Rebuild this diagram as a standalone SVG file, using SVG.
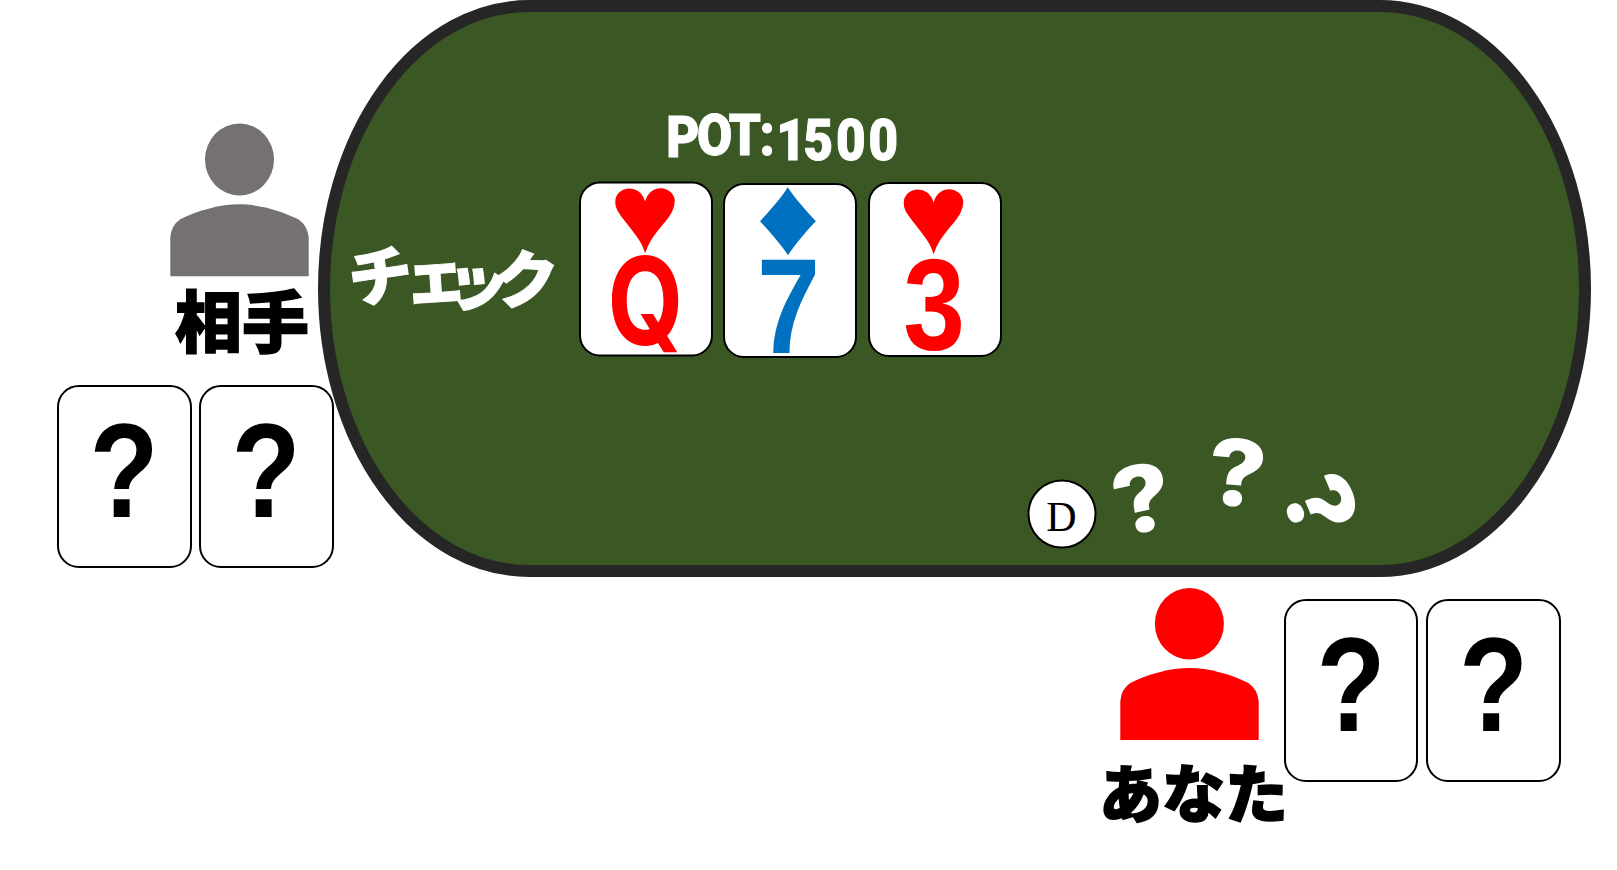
<svg xmlns="http://www.w3.org/2000/svg" width="1617" height="870" viewBox="0 0 1617 870">
<style>
.card{fill:#fff;stroke:#000;stroke-width:2}
.q{font-family:"Liberation Sans",Arial,sans-serif;font-weight:700;font-size:133px;text-anchor:middle;fill:#000}
.rank{font-family:"Liberation Sans",Arial,sans-serif;font-weight:700;text-anchor:middle}
.suit{font-family:"Liberation Sans",Arial,sans-serif;text-anchor:middle}
.jp{font-family:"Noto Sans CJK JP",sans-serif;font-weight:900}
.wq{font-family:Inter,sans-serif;font-weight:800;font-size:92px;text-anchor:middle;fill:#fff}
</style>
<defs>
<path id="body" d="M0 72V33Q1 21 10 15C28 6 50 0 69 0C88 0 110 6 128 15Q137 21 138.4 33V72Z"/>
</defs>
<g id="table"><path d="M529 6H1380A205 282.5 0 0 1 1380 571H529A205 282.5 0 0 1 529 6Z" fill="#3a5724" stroke="#262626" stroke-width="12"/></g>
<g id="pot"><text font-family="Roboto,sans-serif" font-weight="900" font-size="58" fill="#fff" stroke="#fff" stroke-width="1" transform="scale(.88 1)" x="757 792 828 863 882 913 950 987" y="157 155 155 155 160 160 160 160">POT:1500</text></g>
<g id="action"><text class="jp" font-size="64" fill="#fff" stroke="#fff" stroke-width="1" x="352 405 441 493" y="304 302 298 302" rotate="-8 -4 14 3">チェック</text></g>
<g id="board-q"><rect class="card" x="580" y="182.5" width="132" height="173" rx="20"/><text class="suit" font-size="114" fill="#f00" transform="translate(645 252) scale(1.056 1)">♥</text><text style="font-family:Inter,sans-serif" class="rank" fill="#f00" font-size="122" transform="translate(645.5 345) scale(.8 1)">Q</text></g>
<g id="board-7"><rect class="card" x="724" y="184" width="132" height="173" rx="20"/><text class="suit" font-size="112" fill="#0070c0" transform="translate(788 254) scale(1.12 1)">♦</text><text class="rank" fill="#0070c0" font-size="135" transform="translate(788.5 353) scale(.84 1)">7</text></g>
<g id="board-3"><rect class="card" x="869" y="183" width="132" height="173" rx="20"/><text class="suit" font-size="114" fill="#f00" transform="translate(933.5 253) scale(1.056 1)">♥</text><text class="rank" fill="#f00" font-size="129" transform="translate(934 350) scale(.86 1)">3</text></g>
<g id="opponent">
<ellipse cx="239.5" cy="159.5" rx="34.5" ry="36" fill="#767171"/>
<use href="#body" x="170.3" y="204.3" fill="#767171"/>
<text class="jp" font-size="67" stroke="#000" stroke-width="1.5" x="175" y="347">相手</text>
</g>
<g id="opponent-cards">
<rect class="card" x="58" y="386" width="133" height="181" rx="21"/><text class="q" transform="translate(124 517) scale(.85 1)">?</text>
<rect class="card" x="200" y="386" width="133" height="181" rx="21"/><text class="q" transform="translate(266 517) scale(.85 1)">?</text>
</g>
<g id="dealer"><circle cx="1062" cy="514" r="33.5" fill="#fff" stroke="#000" stroke-width="2"/><text x="1061.5" y="531" font-family="Liberation Serif,serif" font-size="42" text-anchor="middle">D</text></g>
<g id="thinking">
<text class="wq" y="33" transform="translate(1142 498.5) rotate(-12) scale(1.1 1)">?</text>
<text class="wq" y="33" transform="translate(1237 473) rotate(5) scale(1.1 1)">?</text>
<text class="wq" y="33" transform="translate(1320 505) rotate(67) scale(1.1 1)">?</text>
</g>
<g id="you">
<ellipse cx="1189.4" cy="623.7" rx="34.5" ry="35.8" fill="#f00"/>
<use href="#body" x="1120.3" y="668" fill="#f00"/>
<text class="jp" font-size="63" stroke="#000" stroke-width="1.5" x="1099" y="817">あなた</text>
</g>
<g id="your-cards">
<rect class="card" x="1285" y="600" width="132" height="181" rx="21"/><text class="q" transform="translate(1351 731) scale(.85 1)">?</text>
<rect class="card" x="1427" y="600" width="133" height="181" rx="21"/><text class="q" transform="translate(1493.5 731) scale(.85 1)">?</text>
</g>
</svg>
